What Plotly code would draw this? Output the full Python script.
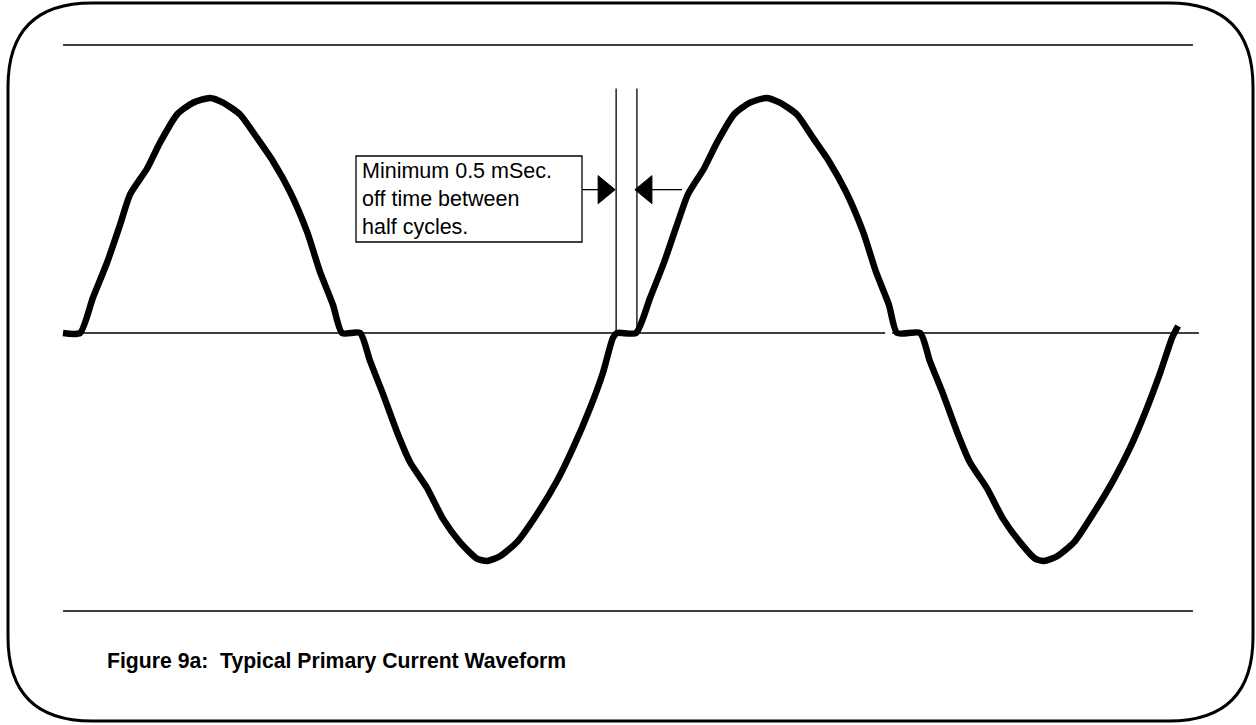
import plotly.graph_objects as go

W, H = 1256, 725
FONT = "Liberation Sans, Arial, sans-serif"

# Waveform: time in ms, current normalised to the peak.
TIME_POS_1 = [-0.54, 0.00, 0.41, 0.86, 1.27, 1.59, 2.13, 2.54, 3.08, 3.59, 4.13,
              4.54, 5.08, 5.62, 6.13, 6.67, 7.21, 7.62, 8.03, 8.32, 8.89]
CURR_POS_1 = [0, 0, 0.15, 0.30, 0.46, 0.59, 0.70, 0.81, 0.93, 0.98, 1.00,
              0.98, 0.93, 0.83, 0.73, 0.60, 0.43, 0.26, 0.12, 0, 0]

TIME_NEG_1 = [9.21, 9.62, 10.06, 10.48, 11.02, 11.52, 12.06, 12.60, 12.92, 13.33,
              13.87, 14.51, 15.14, 15.65, 16.19, 16.60, 16.92, 17.05, 17.65]
CURR_NEG_1 = [-0.12, -0.26, -0.42, -0.55, -0.66, -0.79, -0.89, -0.96, -0.97, -0.95,
              -0.89, -0.77, -0.63, -0.49, -0.32, -0.17, -0.02, 0, 0]

TIME_POS_2 = [18.10, 18.54, 18.95, 19.30, 19.81, 20.22, 20.76, 21.27, 21.78, 22.22,
              22.76, 23.27, 23.78, 24.32, 24.86, 25.27, 25.68, 25.94, 26.67]
CURR_POS_2 = [0.15, 0.30, 0.46, 0.59, 0.70, 0.81, 0.93, 0.98, 1.00, 0.98,
              0.93, 0.83, 0.73, 0.60, 0.43, 0.26, 0.12, 0, 0]

TIME_NEG_2 = [26.98, 27.40, 27.84, 28.25, 28.79, 29.30, 29.84, 30.32, 30.60, 31.02,
              31.56, 32.16, 32.79, 33.33, 33.87, 34.29, 34.67, 34.86]
CURR_NEG_2 = [-0.12, -0.26, -0.42, -0.55, -0.66, -0.79, -0.89, -0.96, -0.97, -0.95,
              -0.89, -0.77, -0.63, -0.49, -0.32, -0.17, -0.02, 0.03]

# zero axis (two pieces, the scan has a small gap) and the off-time window
ZERO_SEGMENTS = [(-0.54, 25.56), (25.78, 35.52)]
OFF_WINDOW = [17.02, 17.68]
MARKER_TOP = 1.04
ARROW_LEVEL = 0.61
ARROW_TAIL = [15.94, 19.11]

NOTE_TEXT = "Minimum 0.5 mSec.<br>off time between<br>half cycles."
CAPTION = "Figure 9a:\u00a0 Typical Primary Current Waveform"

# pixel scale of the drawing
PX_PER_MS = 31.5
PX_PER_UNIT = 235.0
X_RANGE = [-80 / PX_PER_MS, (W - 80) / PX_PER_MS]
Y_RANGE = [(333 - H) / PX_PER_UNIT, 333 / PX_PER_UNIT]


def px(x, y):
    """Pixel position -> paper coordinates."""
    return x / W, 1 - y / H


def rounded_rect(x0, y0, x1, y1, r):
    pts = []
    a = px(x0 + r, y0); pts.append(f"M{a[0]},{a[1]}")
    a = px(x1 - r, y0); pts.append(f"L{a[0]},{a[1]}")
    c, e = px(x1, y0), px(x1, y0 + r); pts.append(f"Q{c[0]},{c[1]} {e[0]},{e[1]}")
    a = px(x1, y1 - r); pts.append(f"L{a[0]},{a[1]}")
    c, e = px(x1, y1), px(x1 - r, y1); pts.append(f"Q{c[0]},{c[1]} {e[0]},{e[1]}")
    a = px(x0 + r, y1); pts.append(f"L{a[0]},{a[1]}")
    c, e = px(x0, y1), px(x0, y1 - r); pts.append(f"Q{c[0]},{c[1]} {e[0]},{e[1]}")
    a = px(x0, y0 + r); pts.append(f"L{a[0]},{a[1]}")
    c, e = px(x0, y0), px(x0 + r, y0); pts.append(f"Q{c[0]},{c[1]} {e[0]},{e[1]}")
    return " ".join(pts) + " Z"


time = TIME_POS_1 + TIME_NEG_1 + TIME_POS_2 + TIME_NEG_2
current = CURR_POS_1 + CURR_NEG_1 + CURR_POS_2 + CURR_NEG_2

fig = go.Figure()

fig.add_trace(go.Scatter(
    x=time, y=current, mode="lines",
    line={"color": "black", "width": 6.5, "shape": "spline", "smoothing": 0.6},
    hoverinfo="skip", showlegend=False,
))

# arrow heads pointing at the off-time window
head_len = 17 / PX_PER_MS
head_half = 14 / PX_PER_UNIT
tip_r = OFF_WINDOW[0] - 1 / PX_PER_MS
tip_l = OFF_WINDOW[1] - 2 / PX_PER_MS
for tip, base in [(tip_r, tip_r - head_len), (tip_l, tip_l + head_len)]:
    fig.add_trace(go.Scatter(
        x=[tip, base, base, tip],
        y=[ARROW_LEVEL, ARROW_LEVEL + head_half, ARROW_LEVEL - head_half, ARROW_LEVEL],
        mode="lines", fill="toself", fillcolor="black",
        line={"color": "black", "width": 1},
        hoverinfo="skip", showlegend=False,
    ))

shapes = []
for x0, x1 in ZERO_SEGMENTS:
    shapes.append(dict(type="line", xref="x", yref="y", x0=x0, x1=x1, y0=0, y1=0,
                       line={"color": "black", "width": 1.3}, layer="below"))
for xv in OFF_WINDOW:
    shapes.append(dict(type="line", xref="x", yref="y", x0=xv, x1=xv, y0=0,
                       y1=MARKER_TOP, line={"color": "black", "width": 1.3},
                       layer="below"))
shapes.append(dict(type="line", xref="x", yref="y", x0=ARROW_TAIL[0],
                   x1=tip_r - head_len, y0=ARROW_LEVEL, y1=ARROW_LEVEL,
                   line={"color": "black", "width": 1.3}))
shapes.append(dict(type="line", xref="x", yref="y", x0=tip_l + head_len,
                   x1=ARROW_TAIL[1], y0=ARROW_LEVEL, y1=ARROW_LEVEL,
                   line={"color": "black", "width": 1.3}))

# frame, rules and note box
shapes.append(dict(type="path", xref="paper", yref="paper",
                   path=rounded_rect(8, 3, 1253, 721, 84),
                   line={"color": "black", "width": 3}))
for yy in (45, 611):
    a, b = px(63, yy), px(1193, yy)
    shapes.append(dict(type="line", xref="paper", yref="paper", x0=a[0], x1=b[0],
                       y0=a[1], y1=b[1], line={"color": "black", "width": 1.3}))
a, b = px(356, 156), px(582, 242)
shapes.append(dict(type="rect", xref="paper", yref="paper", x0=a[0], x1=b[0],
                   y0=b[1], y1=a[1], line={"color": "black", "width": 1.3},
                   fillcolor="white"))

note_xy = px(361, 158)
cap_xy = px(106, 648)
annotations = [
    dict(text=NOTE_TEXT, xref="paper", yref="paper", x=note_xy[0], y=note_xy[1],
         xanchor="left", yanchor="top", align="left", showarrow=False,
         borderpad=0, font={"family": FONT, "size": 21.5, "color": "black"}),
    dict(text=CAPTION, xref="paper", yref="paper", x=cap_xy[0], y=cap_xy[1],
         xanchor="left", yanchor="top", align="left", showarrow=False,
         borderpad=0, font={"family": FONT, "size": 21.2, "color": "black",
                            "weight": "bold"}),
]

fig.update_layout(
    width=W, height=H, autosize=False,
    margin={"l": 0, "r": 0, "t": 0, "b": 0},
    paper_bgcolor="white", plot_bgcolor="white",
    xaxis={"visible": False, "range": X_RANGE, "fixedrange": True},
    yaxis={"visible": False, "range": Y_RANGE, "fixedrange": True},
    shapes=shapes, annotations=annotations,
    showlegend=False,
)

fig.write_html("out.html", config={"displayModeBar": False},
               post_script="document.body.style.margin='0';")
